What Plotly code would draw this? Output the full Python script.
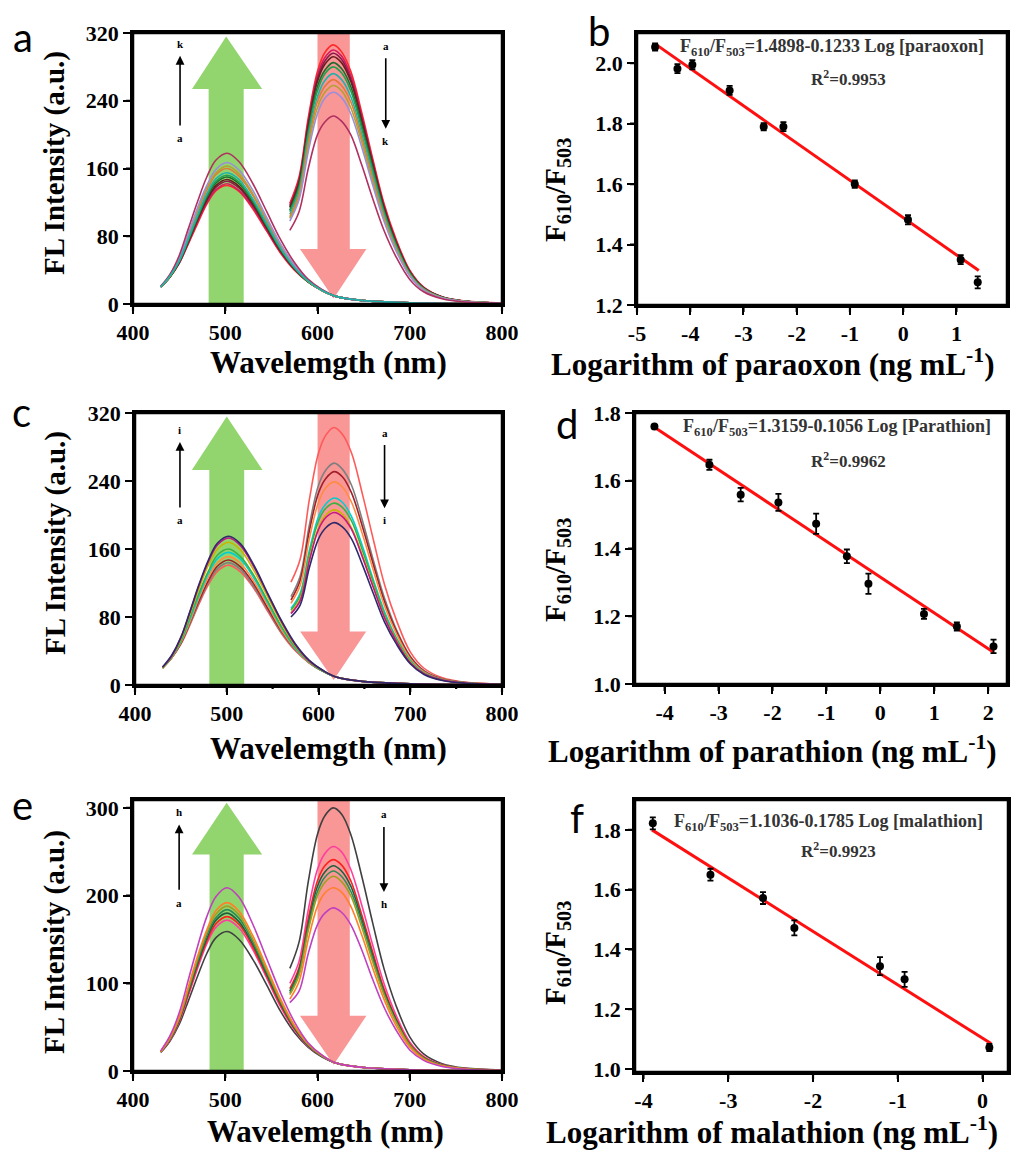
import plotly.graph_objects as go

# ---------------- DATA ----------------
# wavelength grids (nm) of the two emission bands
W1 = [430, 440, 450, 460, 470, 480, 490, 502, 515, 530, 545, 560, 575, 590, 605, 620, 650, 700, 800]
W2 = [570, 580, 590, 600, 608, 617, 626, 636, 648, 660, 672, 685, 700, 715, 735, 760, 800]

# panel a (paraoxon), curves a..k
a_names = list("abcdefghijk")
a_green = [
    [20, 32, 48, 71, 95, 118, 134, 140, 133, 112, 86, 60, 40, 26, 16, 9, 4, 1.5, 0.3],
    [20, 32, 48, 72, 97, 119, 135, 142, 134, 114, 87, 61, 41, 26, 16, 9, 4, 1.5, 0.3],
    [20, 32, 49, 73, 99, 122, 138, 145, 137, 116, 89, 62, 41, 26, 16, 9, 4, 1.5, 0.3],
    [20, 32, 49, 74, 100, 123, 140, 147, 139, 118, 90, 63, 42, 26, 16, 9, 4, 1.5, 0.3],
    [20, 32, 50, 75, 102, 126, 143, 150, 142, 120, 92, 64, 42, 26, 16, 9, 4, 1.5, 0.3],
    [20, 32, 50, 76, 103, 128, 145, 152, 144, 122, 93, 65, 43, 26, 16, 9, 4, 1.5, 0.3],
    [20, 33, 51, 77, 105, 130, 148, 155, 147, 124, 95, 66, 43, 27, 16, 9, 4, 1.5, 0.3],
    [20, 33, 52, 80, 109, 134, 153, 160, 151, 128, 98, 68, 44, 27, 16, 9, 4, 1.5, 0.3],
    [20, 33, 53, 81, 111, 137, 155, 163, 154, 130, 100, 70, 45, 27, 16, 9, 4, 1.5, 0.3],
    [20, 34, 54, 83, 114, 140, 159, 167, 158, 134, 102, 71, 46, 28, 17, 9, 4, 1.5, 0.3],
    [21, 35, 57, 89, 121, 150, 170, 178, 168, 142, 109, 76, 49, 29, 17, 9, 4, 1.5, 0.3],
]
a_red = [
    [119, 150, 220, 275, 297, 306, 298, 275, 226, 171, 119, 77, 40, 20, 8.6, 3.4, 1.2],
    [117, 147, 216, 270, 291, 300, 293, 270, 222, 168, 117, 75, 39, 19.5, 8.4, 3.3, 1.2],
    [115, 145, 213, 266, 287, 296, 289, 266, 219, 166, 115, 74, 38, 19, 8.3, 3.3, 1.2],
    [114, 143, 210, 263, 283, 292, 285, 263, 216, 164, 114, 73, 38, 19, 8.2, 3.2, 1.2],
    [111, 140, 205, 257, 276, 285, 278, 257, 211, 160, 111, 71, 37, 18.5, 8, 3.1, 1.1],
    [109, 137, 202, 252, 272, 280, 273, 252, 207, 157, 109, 70, 36, 18, 7.8, 3.1, 1.1],
    [106, 133, 196, 245, 264, 272, 265, 245, 201, 152, 106, 68, 35, 17.7, 7.6, 3, 1.1],
    [103, 130, 191, 239, 257, 265, 258, 239, 196, 148, 103, 66, 34, 17.2, 7.4, 2.9, 1.1],
    [101, 126, 186, 232, 250, 258, 252, 232, 191, 144, 101, 65, 34, 16.8, 7.2, 2.8, 1],
    [98, 123, 180, 225, 243, 250, 244, 225, 185, 140, 98, 63, 33, 16.3, 7, 2.8, 1],
    [87, 109, 160, 200, 215, 222, 216, 200, 164, 124, 87, 56, 29, 14.4, 6.2, 2.4, 0.9],
]
a_colors = ["#FF2A2A", "#D81B60", "#8B1A4A", "#6B1E1E", "#1E6B2E", "#22A04B",
            "#20B2AA", "#E07B39", "#B5A030", "#9B8FD8", "#B03060"]

# panel c (parathion), curves a..i
c_names = list("abcdefghi")
c_green = [
    [20, 32, 48, 71, 96, 118, 134, 141, 133, 113, 86, 60, 40, 26, 16, 9, 4, 1.5, 0.3],
    [20, 32, 49, 72, 98, 121, 137, 144, 136, 115, 88, 61, 41, 26, 16, 9, 4, 1.5, 0.3],
    [20, 32, 49, 74, 100, 123, 140, 147, 139, 118, 90, 63, 42, 26, 16, 9, 4, 1.5, 0.3],
    [20, 32, 50, 75, 103, 127, 144, 151, 143, 121, 93, 64, 42, 26, 16, 9, 4, 1.5, 0.3],
    [20, 33, 51, 78, 106, 131, 149, 156, 148, 125, 96, 67, 43, 27, 16, 9, 4, 1.5, 0.3],
    [20, 33, 52, 80, 109, 134, 153, 160, 151, 128, 98, 68, 44, 27, 16, 9, 4, 1.5, 0.3],
    [20, 34, 54, 84, 114, 141, 160, 168, 159, 134, 103, 72, 46, 28, 17, 9, 4, 1.5, 0.3],
    [21, 34, 56, 86, 118, 145, 165, 173, 164, 138, 106, 74, 47, 28, 17, 9, 4, 1.5, 0.3],
    [21, 35, 56, 87, 119, 147, 167, 175, 166, 140, 107, 75, 48, 29, 17, 9, 4, 1.5, 0.3],
]
c_red = [
    [121, 148, 218, 273, 294, 303, 295, 273, 224, 170, 118, 76, 39, 19.7, 8.5, 3.3, 1.2],
    [104, 128, 188, 235, 253, 261, 254, 235, 193, 146, 102, 65, 34, 17, 7.3, 2.9, 1],
    [100, 123, 181, 226, 243, 251, 245, 226, 186, 141, 98, 63, 33, 16.3, 7, 2.8, 1],
    [96, 117, 172, 215, 232, 239, 233, 215, 177, 134, 93, 60, 31, 15.5, 6.7, 2.6, 1],
    [90, 108, 158, 198, 213, 220, 215, 198, 163, 123, 86, 55, 29, 14.3, 6.2, 2.4, 0.9],
    [88, 105, 154, 193, 208, 214, 209, 193, 158, 120, 83, 54, 28, 13.9, 6, 2.4, 0.9],
    [85, 101, 148, 185, 200, 206, 201, 185, 152, 115, 80, 52, 27, 13.4, 5.8, 2.3, 0.8],
    [84, 99, 146, 183, 197, 203, 198, 183, 150, 114, 79, 51, 26, 13.2, 5.7, 2.2, 0.8],
    [80, 94, 138, 172, 185, 191, 186, 172, 141, 107, 74, 48, 25, 12.4, 5.3, 2.1, 0.8],
]
c_colors = ["#FF5A5A", "#7F7F7F", "#A0202A", "#FF8C42", "#00CED1", "#3CB043",
            "#C8B400", "#C71585", "#2E2A6A"]

# panel e (malathion), curves a..h
e_names = list("abcdefgh")
e_green = [
    [21, 34, 53, 80, 108, 134, 152, 159, 150, 127, 98, 68, 44, 27, 16, 9, 4, 1.5, 0.3],
    [22, 35, 56, 86, 117, 145, 164, 172, 163, 138, 106, 73, 47, 28, 17, 9, 4, 1.5, 0.3],
    [22, 36, 57, 88, 120, 148, 168, 176, 167, 141, 108, 75, 48, 29, 17, 9, 4, 1.5, 0.3],
    [22, 36, 58, 90, 122, 151, 172, 180, 170, 144, 110, 77, 49, 29, 17, 9, 4, 1.5, 0.3],
    [22, 37, 59, 92, 125, 155, 175, 184, 174, 147, 113, 79, 50, 30, 17, 9, 4, 1.5, 0.3],
    [22, 37, 60, 94, 128, 158, 179, 188, 178, 150, 115, 80, 51, 30, 17, 9, 4, 1.5, 0.3],
    [22, 38, 61, 96, 131, 161, 183, 192, 182, 154, 118, 82, 52, 31, 18, 9, 4, 1.5, 0.3],
    [23, 40, 66, 104, 142, 176, 199, 209, 198, 167, 128, 89, 56, 32, 18, 9, 4, 1.5, 0.3],
]
e_red = [
    [117, 147, 216, 270, 291, 300, 293, 270, 222, 168, 117, 75, 39, 19.5, 8.4, 3.3, 1.2],
    [100, 125, 184, 230, 248, 256, 250, 230, 189, 143, 100, 64, 33, 16.6, 7.2, 2.8, 1],
    [94, 118, 174, 217, 234, 241, 235, 217, 178, 135, 94, 60, 31, 15.7, 6.7, 2.7, 1],
    [91, 115, 168, 211, 227, 234, 228, 211, 173, 131, 91, 59, 30, 15.2, 6.6, 2.6, 0.9],
    [89, 112, 164, 205, 221, 228, 222, 205, 169, 128, 89, 57, 30, 14.8, 6.4, 2.5, 0.9],
    [87, 109, 160, 200, 215, 222, 216, 200, 164, 124, 87, 56, 29, 14.4, 6.2, 2.4, 0.9],
    [82, 102, 150, 188, 203, 209, 204, 188, 155, 117, 82, 52, 27, 13.6, 5.9, 2.3, 0.8],
    [78, 91, 134, 167, 180, 186, 181, 167, 138, 104, 73, 47, 24, 12.1, 5.2, 2, 0.7],
]
e_colors = ["#404040", "#FF3F9F", "#FF2020", "#1F5F3F", "#2E8B57", "#A0A020",
            "#FF7F2A", "#C040C0"]

# panel b: paraoxon calibration
b_x = [-4.66, -4.24, -3.96, -3.26, -2.62, -2.25, -0.91, 0.09, 1.08, 1.40]
b_y = [2.054, 1.982, 1.995, 1.910, 1.790, 1.790, 1.600, 1.482, 1.350, 1.275]
b_err = [0.012, 0.015, 0.015, 0.015, 0.012, 0.015, 0.012, 0.015, 0.015, 0.02]
b_fit_x = [-4.66, 1.42]
b_fit_y = [2.064, 1.314]
b_eq = "F<sub>610</sub>/F<sub>503</sub>=1.4898-0.1233 Log [paraoxon]"
b_r2 = "R<sup>2</sup>=0.9953"

# panel d: parathion calibration
d_x = [-4.19, -3.17, -2.59, -1.89, -1.19, -0.62, -0.22, 0.81, 1.42, 2.10]
d_y = [1.760, 1.647, 1.559, 1.536, 1.473, 1.377, 1.296, 1.207, 1.170, 1.111]
d_err = [0.005, 0.015, 0.02, 0.025, 0.03, 0.02, 0.03, 0.015, 0.012, 0.02]
d_fit_x = [-4.19, 2.10]
d_fit_y = [1.758, 1.094]
d_eq = "F<sub>610</sub>/F<sub>503</sub>=1.3159-0.1056 Log [Parathion]"
d_r2 = "R<sup>2</sup>=0.9962"

# panel f: malathion calibration
f_x = [-3.89, -3.21, -2.59, -2.22, -1.21, -0.92, 0.08]
f_y = [1.822, 1.650, 1.572, 1.472, 1.344, 1.300, 1.072]
f_err = [0.02, 0.02, 0.02, 0.025, 0.03, 0.025, 0.012]
f_fit_x = [-3.90, 0.10]
f_fit_y = [1.800, 1.085]
f_eq = "F<sub>610</sub>/F<sub>503</sub>=1.1036-0.1785 Log [malathion]"
f_r2 = "R<sup>2</sup>=0.9923"

# tick values
wl_ticks = [400, 500, 600, 700, 800]
wl_minor = [450, 550, 650, 750]
ac_yticks = [0, 80, 160, 240, 320]
e_yticks = [0, 100, 200, 300]
b_xticks = [-5, -4, -3, -2, -1, 0, 1]
b_yticks = [1.2, 1.4, 1.6, 1.8, 2.0]
d_xticks = [-4, -3, -2, -1, 0, 1, 2]
d_yticks = [1.0, 1.2, 1.4, 1.6, 1.8]
f_xticks = [-4, -3, -2, -1, 0]
f_yticks = [1.0, 1.2, 1.4, 1.6, 1.8]

# ---------------- STYLE / LAYOUT ----------------
OFF = 8                      # page body margin of the written html
FW, FH = 1019 - OFF, 1153 - OFF
SERIF = "Liberation Serif, Times New Roman, serif"
SANS = "Lato, Open Sans, sans-serif"
GREEN = "#92D46E"
PINK = "#F99696"
TICKLEN = 7


def px(x):
    return (x - OFF) / FW


def py(y):
    return 1 - (y - OFF) / FH


fig = go.Figure()


def add_spectra(xa, ya, greens, reds, colors):
    order = sorted(range(len(greens)), key=lambda i: colors[i] in ("#20B2AA",))
    for i in order:
        fig.add_trace(go.Scatter(x=W1, y=greens[i], mode="lines", xaxis=xa, yaxis=ya,
                                 line=dict(color=colors[i], width=1.6, shape="spline", smoothing=1.0),
                                 showlegend=False, hoverinfo="skip"))
    for i in range(len(reds)):
        fig.add_trace(go.Scatter(x=W2, y=reds[i], mode="lines", xaxis=xa, yaxis=ya,
                                 line=dict(color=colors[i], width=1.6, shape="spline", smoothing=1.0),
                                 showlegend=False, hoverinfo="skip"))


def add_calib(xa, ya, x, y, err, fx, fy):
    fig.add_trace(go.Scatter(x=fx, y=fy, mode="lines", xaxis=xa, yaxis=ya,
                             line=dict(color="#FF1010", width=3), showlegend=False))
    fig.add_trace(go.Scatter(x=x, y=y, mode="markers", xaxis=xa, yaxis=ya,
                             marker=dict(color="black", size=8),
                             error_y=dict(type="data", array=err, color="black", thickness=1.8, width=3),
                             showlegend=False))


add_spectra("x", "y", a_green, a_red, a_colors)
add_calib("x2", "y2", b_x, b_y, b_err, b_fit_x, b_fit_y)
add_spectra("x3", "y3", c_green, c_red, c_colors)
add_calib("x4", "y4", d_x, d_y, d_err, d_fit_x, d_fit_y)
add_spectra("x5", "y5", e_green, e_red, e_colors)
add_calib("x6", "y6", f_x, f_y, f_err, f_fit_x, f_fit_y)

tickfont = dict(family=SERIF, size=22, color="black", weight="bold")


def axis(domain, rng, tickvals, fmt, anchor):
    return dict(domain=domain, range=rng, tickmode="array", tickvals=tickvals,
                ticktext=[fmt(v) for v in tickvals], showline=True, mirror=True,
                linecolor="black", linewidth=2.5, ticks="outside", ticklen=TICKLEN, tickwidth=2,
                tickcolor="black", tickfont=tickfont, showgrid=False, zeroline=False,
                anchor=anchor, automargin=False, layer="above traces")


fi = lambda v: str(int(v))
f1 = lambda v: f"{v:.1f}"

panels = {
    # id: (x px span, y px span) in the reference picture
    "a": ((133, 502), (33, 304)),
    "b": ((637, 1007), (33, 305)),
    "c": ((135, 502), (413, 685)),
    "d": ((635, 1007), (413, 684)),
    "e": ((133, 502), (800, 1071)),
    "f": ((635, 1008), (800, 1072)),
}


def dom(key):
    (x0, x1), (y0, y1) = panels[key]
    return [px(x0), px(x1)], [py(y1), py(y0)]


layout = dict(template="none", width=FW, height=FH, autosize=False,
              margin=dict(l=0, r=0, t=0, b=0, pad=0, autoexpand=False),
              paper_bgcolor="white", plot_bgcolor="rgba(0,0,0,0)", showlegend=False,
              font=dict(family=SERIF, color="black"))

axes_spec = [
    ("a", "", [400, 800], wl_ticks, fi, [0, 320], ac_yticks, fi),
    ("b", "2", [-5, 1.95], b_xticks, fi, [1.2, 2.1], b_yticks, f1),
    ("c", "3", [400, 800], wl_ticks, fi, [0, 320], ac_yticks, fi),
    ("d", "4", [-4.55, 2.35], d_xticks, fi, [1.0, 1.8], d_yticks, f1),
    ("e", "5", [400, 800], wl_ticks, fi, [0, 309], e_yticks, fi),
    ("f", "6", [-4.1, 0.3], f_xticks, fi, [0.99, 1.9], f_yticks, f1),
]
for key, n, xr_, xt, xf, yr_, yt, yf in axes_spec:
    dx, dy = dom(key)
    layout["xaxis" + n] = axis(dx, xr_, xt, xf, "y" + n)
    layout["yaxis" + n] = axis(dy, yr_, yt, yf, "x" + n)

fig.update_layout(**layout)

# ---------- big translucent arrows (decoration) + frames + tick marks ----------
shapes = []


def up_arrow(xr, yr, shaft, head, head_base, tip, bottom):
    xm = (shaft[0] + shaft[1]) / 2
    path = (f"M {shaft[0]},{bottom} L {shaft[0]},{head_base} L {head[0]},{head_base} "
            f"L {xm},{tip} L {head[1]},{head_base} L {shaft[1]},{head_base} L {shaft[1]},{bottom} Z")
    shapes.append(dict(type="path", path=path, xref=xr, yref=yr, fillcolor=GREEN,
                       line=dict(width=0), layer="below"))


def down_arrow(xr, yr, shaft, head, head_base, tip, top):
    xm = (shaft[0] + shaft[1]) / 2
    path = (f"M {shaft[0]},{top} L {shaft[0]},{head_base} L {head[0]},{head_base} "
            f"L {xm},{tip} L {head[1]},{head_base} L {shaft[1]},{head_base} L {shaft[1]},{top} Z")
    shapes.append(dict(type="path", path=path, xref=xr, yref=yr, fillcolor=PINK,
                       line=dict(width=0), layer="below"))


up_arrow("x", "y", (482, 520), (464, 540), 254, 316, 0)
down_arrow("x", "y", (600, 635), (581, 653), 65, 6.5, 320)
up_arrow("x3", "y3", (481, 519), (462, 539), 253, 316, 0)
down_arrow("x3", "y3", (599, 634), (580, 652), 63, 6, 320)
up_arrow("x5", "y5", (483, 520), (464, 540), 247, 306, 0)
down_arrow("x5", "y5", (600, 635), (581, 653), 63, 7, 309)

# frames and tick marks in paper space (so they are not clipped by the plot area)
for key, n, xr_, xt, xf, yr_, yt, yf in axes_spec:
    (x0, x1), (y0, y1) = panels[key]
    shapes.append(dict(type="rect", xref="paper", yref="paper", x0=px(x0), x1=px(x1),
                       y0=py(y1), y1=py(y0), line=dict(color="black", width=2.5),
                       fillcolor="rgba(0,0,0,0)", layer="above"))
    minor = wl_minor if key == "c" else []
    segs = []
    for v, ln in [(v, TICKLEN) for v in xt] + [(v, 4) for v in minor]:
        xpix = x0 + (v - xr_[0]) / (xr_[1] - xr_[0]) * (x1 - x0)
        segs.append(f"M {px(xpix)},{py(y1)} L {px(xpix)},{py(y1 + ln)}")
    for v in yt:
        ypix = y1 - (v - yr_[0]) / (yr_[1] - yr_[0]) * (y1 - y0)
        segs.append(f"M {px(x0)},{py(ypix)} L {px(x0 - TICKLEN)},{py(ypix)}")
    shapes.append(dict(type="path", xref="paper", yref="paper", path=" ".join(segs),
                       line=dict(color="black", width=2.2), layer="above"))

fig.update_layout(shapes=shapes)

# ---------- annotations ----------
ann = []
lab_font = dict(family=SERIF, size=11, color="black", weight="bold")


def small_arrows(xr, yr, x_left, x_right, top_lab, bot_lab, last, top_r, bot_r):
    # left: pointing up (a -> last)
    ann.append(dict(x=x_left, y=top_lab - 14, ax=x_left, ay=bot_lab + 13, xref=xr, yref=yr,
                    axref=xr, ayref=yr, showarrow=True, arrowhead=2, arrowsize=1.1,
                    arrowwidth=1.6, arrowcolor="black", text=""))
    ann.append(dict(x=x_left, y=top_lab, xref=xr, yref=yr, text=last, showarrow=False, font=lab_font))
    ann.append(dict(x=x_left, y=bot_lab, xref=xr, yref=yr, text="a", showarrow=False, font=lab_font))
    # right: pointing down (a -> last)
    ann.append(dict(x=x_right, y=bot_r + 14, ax=x_right, ay=top_r - 13, xref=xr, yref=yr,
                    axref=xr, ayref=yr, showarrow=True, arrowhead=2, arrowsize=1.1,
                    arrowwidth=1.6, arrowcolor="black", text=""))
    ann.append(dict(x=x_right, y=top_r, xref=xr, yref=yr, text="a", showarrow=False, font=lab_font))
    ann.append(dict(x=x_right, y=bot_r, xref=xr, yref=yr, text=last, showarrow=False, font=lab_font))


small_arrows("x", "y", 451, 674, 307, 196, a_names[-1], 305, 193)
small_arrows("x3", "y3", 449, 672, 300, 194, c_names[-1], 297, 194)
small_arrows("x5", "y5", 450, 672, 295, 192, e_names[-1], 293, 190)

title_font = dict(family=SERIF, size=31, color="black", weight="bold")
ytitle_font = dict(family=SERIF, size=29, color="black", weight="bold")
ftitle_font = dict(family=SERIF, size=29, color="black", weight="bold")


def paper_text(xp, yp, text, font, angle=0):
    ann.append(dict(x=px(xp), y=py(yp), xref="paper", yref="paper", text=text, showarrow=False,
                    font=font, textangle=angle, xanchor="center", yanchor="middle"))


for xt, yt, xl, yl in [(328, 362, 55, 163), (328, 748, 55, 543), (325, 1131, 55, 942)]:
    paper_text(xt, yt, "Wavelemgth (nm)", title_font)
    paper_text(xl, yl, "FL Intensity (a.u.)", ytitle_font, -90)

for name, (xt, yt, xl, yl) in zip(["paraoxon", "parathion", "malathion"],
                                   [(772, 363, 557, 190), (772, 749, 557, 570), (772, 1130, 557, 953)]):
    paper_text(xt, yt, f"Logarithm of {name} (ng mL<sup>-1</sup>)", title_font)
    paper_text(xl, yl, "F<sub>610</sub>/F<sub>503</sub>", ftitle_font, -90)

eq_font = dict(family=SERIF, size=18, color="#333333", weight="bold")
r2_font = dict(family=SERIF, size=17, color="#333333", weight="bold")
for eq, r2, (ex, ey, rx, ry) in [(b_eq, b_r2, (832, 47, 848, 78)),
                                  (d_eq, d_r2, (837, 427, 848, 460)),
                                  (f_eq, f_r2, (828, 822, 838, 850))]:
    paper_text(ex, ey, eq, eq_font)
    paper_text(rx, ry, r2, r2_font)

letter_font = dict(family=SANS, size=40, color="black")
for t, (lx, ly) in zip("abcdef", [(23, 37), (599, 31), (21, 412), (567, 424), (22, 805), (577, 818)]):
    paper_text(lx, ly, t, letter_font)

fig.update_layout(annotations=ann)
fig.write_html("out.html")
